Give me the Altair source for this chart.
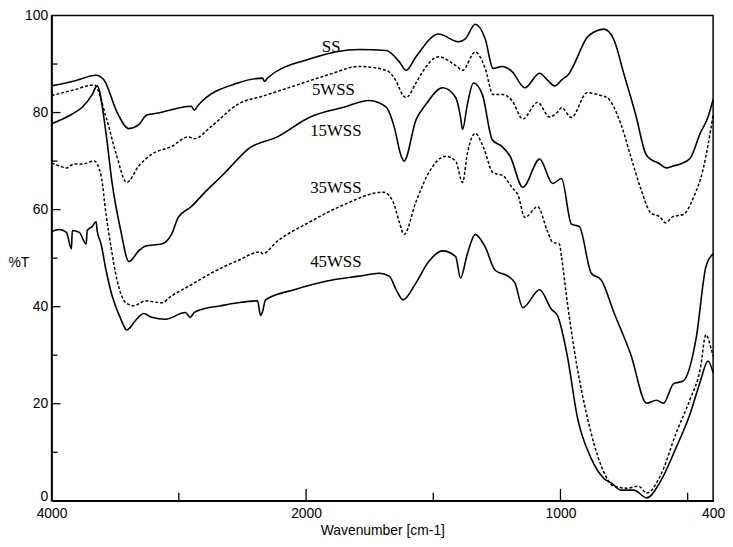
import altair as alt
import pandas as pd

# ---------------- data ----------------
ss_wn = [4000, 3821, 3650, 3588, 3486, 3393, 3315, 3253, 3160, 3043, 2903, 2879, 2848, 2537, 2342, 2327, 2304,
         1984, 1790, 1685, 1634, 1607, 1568, 1479, 1401, 1374, 1335, 1296, 1265, 1230, 1191, 1140, 1082, 1051,
         1023, 996, 965, 946, 895, 868, 829, 790, 751, 704, 665, 646, 615, 584, 556, 529, 490, 451, 420, 400]
ss_t = [85.5, 86.5, 87.7, 86.7, 80.1, 76.7, 77.5, 79.5, 79.9, 80.7, 81.3, 80.5, 81.5, 86.1, 87.1, 86.4, 87.1,
        91.1, 93.0, 92.8, 90.5, 88.7, 91.5, 96.2, 94.6, 95.2, 98.2, 95.2, 89.1, 89.5, 88.5, 85.1, 88.1, 86.7,
        85.5, 86.7, 88.1, 90.0, 95.5, 96.6, 97.2, 95.0, 88.0, 79.5, 71.5, 70.4, 69.6, 68.6, 69.0, 69.4, 70.6,
        75.7, 79.1, 82.7]

w5_wn = [4000, 3821, 3665, 3572, 3494, 3409, 3315, 3214, 3058, 2926, 2879, 2747, 2537, 2327, 2093, 1918, 1790,
         1685, 1646, 1619, 1607, 1568, 1541, 1479, 1412, 1385, 1335, 1296, 1265, 1226, 1191, 1148, 1090, 1043,
         1012, 996, 957, 895, 840, 817, 763, 724, 685, 646, 607, 588, 556, 517, 478, 439, 400]
w5_t = [83.5, 84.7, 85.7, 79.1, 71.6, 65.6, 69.0, 71.4, 73.0, 75.0, 74.6, 77.1, 81.7, 83.5, 85.5, 87.7, 89.5,
        88.7, 86.5, 83.5, 83.1, 86.1, 88.5, 91.5, 89.7, 88.7, 92.5, 89.1, 83.7, 83.7, 82.5, 78.7, 82.1, 79.1,
        80.1, 81.0, 79.0, 84.1, 83.5, 83.1, 77.7, 71.0, 64.4, 59.4, 58.4, 57.3, 58.6, 59.0, 62.4, 68.4, 79.5]

w15_wn = [4000, 3837, 3759, 3681, 3642, 3572, 3525, 3455, 3393, 3315, 3261, 3136, 3058, 3004, 2903, 2794, 2638,
          2537, 2459, 2226, 1984, 1852, 1751, 1685, 1654, 1626, 1615, 1568, 1529, 1463, 1412, 1393, 1385, 1366,
          1342, 1307, 1268, 1230, 1198, 1148, 1082, 1031, 996, 957, 926, 879, 840, 790, 724, 661, 623, 595,
          556, 517, 467, 428, 400]
w15_t = [77.7, 79.7, 81.1, 83.7, 85.5, 75.7, 65.6, 55.5, 49.3, 51.5, 52.5, 52.9, 54.9, 58.4, 60.6, 63.6, 67.6,
         70.4, 72.4, 75.0, 79.1, 81.1, 82.5, 81.1, 77.1, 71.0, 70.0, 78.5, 81.7, 85.1, 83.1, 79.1, 76.5, 81.7,
         86.1, 83.7, 74.4, 73.0, 71.0, 64.6, 70.4, 65.4, 66.4, 57.0, 56.5, 46.9, 45.5, 38.8, 30.2, 20.1, 20.7,
         20.1, 24.1, 24.7, 33.4, 48.3, 50.9]

w35_wn = [4000, 3938, 3883, 3821, 3759, 3665, 3611, 3572, 3533, 3486, 3416, 3354, 3261, 3136, 3058, 2903, 2747,
          2537, 2358, 2342, 2226, 1984, 1852, 1696, 1658, 1634, 1615, 1568, 1518, 1451, 1412, 1385, 1366, 1335,
          1304, 1265, 1226, 1191, 1167, 1140, 1090, 1051, 1031, 1004, 996, 973, 934, 895, 840, 790, 739, 693,
          661, 607, 545, 490, 451, 428, 408, 400]
w35_t = [69.6, 69.0, 68.6, 69.4, 69.4, 70.0, 67.0, 59.0, 52.3, 45.5, 40.8, 40.2, 41.2, 40.8, 42.2, 44.5, 46.9,
         49.5, 51.3, 50.9, 53.5, 57.5, 61.0, 63.6, 61.6, 57.5, 54.9, 61.6, 67.6, 71.0, 70.0, 65.6, 71.6, 75.7,
         73.0, 67.6, 67.0, 64.6, 63.0, 58.4, 60.6, 55.5, 53.3, 52.9, 50.3, 40.8, 27.4, 17.3, 7.2, 3.0, 2.6, 3.0,
         1.6, 5.2, 14.0, 21.0, 27.0, 34.2, 31.4, 29.8]

w45_wn = [4000, 3938, 3883, 3844, 3837, 3782, 3728, 3720, 3681, 3650, 3642, 3611, 3572, 3525, 3455, 3409, 3339,
          3276, 3214, 3105, 2949, 2911, 2879, 2848, 2669, 2537, 2381, 2358, 2342, 2319, 2093, 1918, 1790, 1712,
          1673, 1646, 1619, 1568, 1518, 1463, 1412, 1393, 1366, 1335, 1296, 1257, 1206, 1179, 1148, 1082, 1035,
          1012, 973, 934, 879, 829, 798, 763, 712, 661, 607, 545, 490, 451, 420, 400]
w45_t = [55.5, 55.9, 55.3, 51.9, 55.7, 55.3, 52.9, 55.7, 56.5, 57.5, 55.7, 52.9, 47.5, 42.3, 37.4, 35.2, 37.2,
         38.6, 37.8, 37.4, 38.8, 37.8, 38.8, 39.2, 40.2, 40.8, 41.2, 38.2, 39.0, 41.4, 43.5, 45.3, 46.3, 46.9,
         46.3, 43.5, 41.4, 44.9, 49.3, 51.5, 50.3, 45.9, 50.9, 54.9, 52.3, 47.5, 46.3, 44.9, 39.8, 43.5, 39.4,
         38.2, 29.8, 17.3, 8.7, 4.6, 3.6, 2.2, 2.2, 0.6, 4.0, 11.0, 18.0, 24.5, 28.8, 26.4]

series_names = ["SS", "5WSS", "15WSS", "35WSS", "45WSS"]
series_wn = [ss_wn, w5_wn, w15_wn, w35_wn, w45_wn]
series_t = [ss_t, w5_t, w15_t, w35_t, w45_t]
solid_series = ["SS", "15WSS", "45WSS"]
dashed_series = ["5WSS", "35WSS"]

label_text = ["SS", "5WSS", "15WSS", "35WSS", "45WSS"]
label_wn = [1938, 1977, 1984, 1984, 1984]
label_t = [93.4, 84.7, 76.1, 64.4, 49.1]

x_label_values = [4000, 2000, 1000, 400]
x_major_ticks = [2000, 1000]
x_minor_ticks = [3000, 1500, 500]
y_label_values = [0, 20, 40, 60, 80, 100]
y_major_ticks = [20, 40, 60, 80]
y_minor_ticks = [10, 30, 50, 70, 90]

# ---------------- build tables ----------------
rows = []
for name, wn, t in zip(series_names, series_wn, series_t):
    for i, (w, v) in enumerate(zip(wn, t)):
        rows.append({"series": name, "wn": w, "T": v, "i": i})
df = pd.DataFrame(rows)
labels_df = pd.DataFrame({"text": label_text, "wn": label_wn, "T": label_t})

W, H = 668, 490
FONT = "Liberation Sans"

xscale = alt.Scale(domain=[4000, 2000, 400], range=[0, 257, W], zero=False, nice=False)
yscale = alt.Scale(domain=[0, 100], zero=False, nice=False)

x_axis = alt.Axis(values=x_label_values, format="d", title="Wavenumber [cm-1]", ticks=False, grid=False,
                  labelFont=FONT, labelFontSize=14, labelColor="black", labelPadding=6,
                  labelFlush=False, labelOverlap=False, domainColor="black", domainWidth=1.5,
                  titleFont=FONT, titleFontSize=14, titleFontWeight="normal", titleColor="black",
                  titlePadding=3)
y_axis = alt.Axis(values=y_label_values, format="d", title="%T", ticks=False, grid=False,
                  labelFont=FONT, labelFontSize=14, labelColor="black", labelPadding=4,
                  labelBaseline=alt.condition("datum.value == 0", alt.value("alphabetic"), alt.value("middle")),
                  labelFlush=False, labelOverlap=False, domainColor="black", domainWidth=1.5,
                  titleFont=FONT, titleFontSize=14, titleFontWeight="normal", titleColor="black",
                  titleAngle=0, titleAlign="left", titleBaseline="middle", titleX=-44, titleY=249)

X = alt.X("wn:Q", scale=xscale, axis=x_axis)
Y = alt.Y("T:Q", scale=yscale, axis=y_axis)

base = alt.Chart(df)

solid = base.transform_filter(
    alt.FieldOneOfPredicate(field="series", oneOf=solid_series)
).mark_line(color="black", strokeWidth=1.6, interpolate="monotone").encode(
    x=X, y=Y, detail="series:N", order="i:Q",
)

dashed = base.transform_filter(
    alt.FieldOneOfPredicate(field="series", oneOf=dashed_series)
).mark_line(color="black", strokeWidth=1.5, strokeDash=[3, 2], interpolate="monotone").encode(
    x=X, y=Y, detail="series:N", order="i:Q",
)

text = alt.Chart(labels_df).mark_text(
    align="left", baseline="middle", font="Liberation Serif", fontSize=17, color="black"
).encode(x=X, y=Y, text="text:N")

def xticks(vals, length):
    return alt.Chart(pd.DataFrame({"wn": vals})).mark_rule(color="black", strokeWidth=1.3).encode(
        x=X, y=alt.value(H), y2=alt.value(H - length),
    )

def yticks(vals, length):
    return alt.Chart(pd.DataFrame({"T": vals})).mark_rule(color="black", strokeWidth=1.3).encode(
        y=Y, x=alt.value(0), x2=alt.value(length),
    )

chart = alt.layer(
    solid, dashed, text,
    xticks(x_major_ticks, 12), xticks(x_minor_ticks, 8),
    yticks(y_major_ticks, 9), yticks(y_minor_ticks, 6),
).properties(
    width=W, height=H,
    autosize=alt.AutoSizeParams(type="none"),
    padding={"left": 44, "top": 5, "right": 12, "bottom": 36},
    background="white",
).configure_view(
    stroke="black", strokeWidth=1.5
)

chart.save("out.html", embed_options={"renderer": "svg", "actions": False})
